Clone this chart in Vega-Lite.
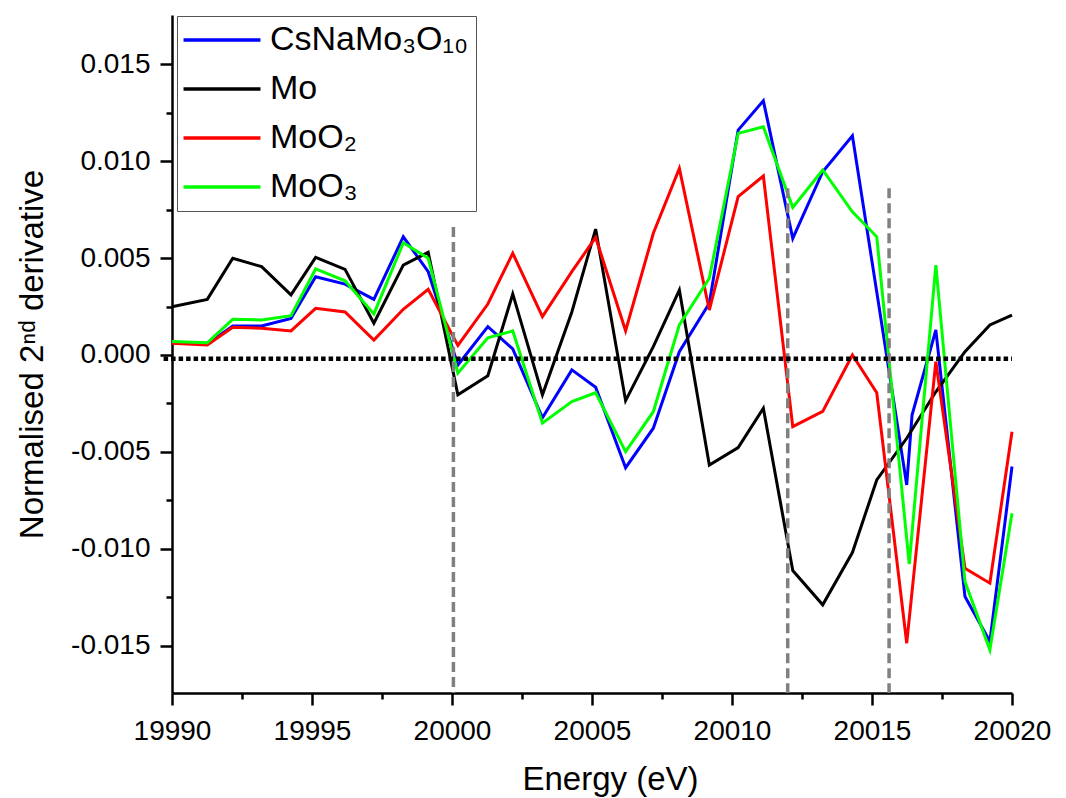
{
  "$schema": "https://vega.github.io/schema/vega-lite/v6.json",
  "width": 840,
  "height": 678,
  "autosize": {"type": "none"},
  "padding": {"left": 172, "top": 15, "right": 54, "bottom": 105},
  "background": "white",
  "config": {"view": {"stroke": null}, "axis": {"grid": false}},
  "datasets": {
    "spectra": [
      {"s": "CsNaMo₃O₁₀", "e": 19990.0, "v": 0.00063},
      {"s": "CsNaMo₃O₁₀", "e": 19991.26, "v": 0.00057},
      {"s": "CsNaMo₃O₁₀", "e": 19992.17, "v": 0.0015},
      {"s": "CsNaMo₃O₁₀", "e": 19993.2, "v": 0.0015},
      {"s": "CsNaMo₃O₁₀", "e": 19994.25, "v": 0.00189},
      {"s": "CsNaMo₃O₁₀", "e": 19995.13, "v": 0.00404},
      {"s": "CsNaMo₃O₁₀", "e": 19996.18, "v": 0.00366},
      {"s": "CsNaMo₃O₁₀", "e": 19997.21, "v": 0.00287},
      {"s": "CsNaMo₃O₁₀", "e": 19998.26, "v": 0.0061},
      {"s": "CsNaMo₃O₁₀", "e": 19999.15, "v": 0.0043},
      {"s": "CsNaMo₃O₁₀", "e": 20000.21, "v": -0.00052},
      {"s": "CsNaMo₃O₁₀", "e": 20001.28, "v": 0.00146},
      {"s": "CsNaMo₃O₁₀", "e": 20002.17, "v": 0.00031},
      {"s": "CsNaMo₃O₁₀", "e": 20003.23, "v": -0.00324},
      {"s": "CsNaMo₃O₁₀", "e": 20004.28, "v": -0.00077},
      {"s": "CsNaMo₃O₁₀", "e": 20005.13, "v": -0.00167},
      {"s": "CsNaMo₃O₁₀", "e": 20006.2, "v": -0.00582},
      {"s": "CsNaMo₃O₁₀", "e": 20007.19, "v": -0.00378},
      {"s": "CsNaMo₃O₁₀", "e": 20008.12, "v": 0.00017},
      {"s": "CsNaMo₃O₁₀", "e": 20009.19, "v": 0.00267},
      {"s": "CsNaMo₃O₁₀", "e": 20010.22, "v": 0.01161},
      {"s": "CsNaMo₃O₁₀", "e": 20011.12, "v": 0.01312},
      {"s": "CsNaMo₃O₁₀", "e": 20012.17, "v": 0.00602},
      {"s": "CsNaMo₃O₁₀", "e": 20013.24, "v": 0.00946},
      {"s": "CsNaMo₃O₁₀", "e": 20014.3, "v": 0.01132},
      {"s": "CsNaMo₃O₁₀", "e": 20015.17, "v": 0.00325},
      {"s": "CsNaMo₃O₁₀", "e": 20016.24, "v": -0.00671},
      {"s": "CsNaMo₃O₁₀", "e": 20016.43, "v": -0.0031},
      {"s": "CsNaMo₃O₁₀", "e": 20017.28, "v": 0.00129},
      {"s": "CsNaMo₃O₁₀", "e": 20018.32, "v": -0.01247},
      {"s": "CsNaMo₃O₁₀", "e": 20019.21, "v": -0.01479},
      {"s": "CsNaMo₃O₁₀", "e": 20020.0, "v": -0.00576},
      {"s": "Mo", "e": 19990.0, "v": 0.00249},
      {"s": "Mo", "e": 19991.26, "v": 0.00287},
      {"s": "Mo", "e": 19992.17, "v": 0.00499},
      {"s": "Mo", "e": 19993.2, "v": 0.00456},
      {"s": "Mo", "e": 19994.25, "v": 0.0031},
      {"s": "Mo", "e": 19995.13, "v": 0.00504},
      {"s": "Mo", "e": 19996.18, "v": 0.00442},
      {"s": "Mo", "e": 19997.21, "v": 0.00164},
      {"s": "Mo", "e": 19998.26, "v": 0.00464},
      {"s": "Mo", "e": 19999.15, "v": 0.0053},
      {"s": "Mo", "e": 20000.21, "v": -0.00206},
      {"s": "Mo", "e": 20001.28, "v": -0.00107},
      {"s": "Mo", "e": 20002.17, "v": 0.00315},
      {"s": "Mo", "e": 20003.23, "v": -0.00206},
      {"s": "Mo", "e": 20004.28, "v": 0.00222},
      {"s": "Mo", "e": 20005.13, "v": 0.0065},
      {"s": "Mo", "e": 20006.2, "v": -0.00236},
      {"s": "Mo", "e": 20007.19, "v": 0.00043},
      {"s": "Mo", "e": 20008.12, "v": 0.00335},
      {"s": "Mo", "e": 20009.19, "v": -0.00568},
      {"s": "Mo", "e": 20010.22, "v": -0.00478},
      {"s": "Mo", "e": 20011.12, "v": -0.00275},
      {"s": "Mo", "e": 20012.17, "v": -0.01113},
      {"s": "Mo", "e": 20013.24, "v": -0.0129},
      {"s": "Mo", "e": 20014.3, "v": -0.0102},
      {"s": "Mo", "e": 20015.17, "v": -0.00645},
      {"s": "Mo", "e": 20016.24, "v": -0.0043},
      {"s": "Mo", "e": 20017.28, "v": -0.0019},
      {"s": "Mo", "e": 20018.32, "v": 0.00017},
      {"s": "Mo", "e": 20019.21, "v": 0.00155},
      {"s": "Mo", "e": 20020.0, "v": 0.00206},
      {"s": "MoO₂", "e": 19990.0, "v": 0.0006},
      {"s": "MoO₂", "e": 19991.26, "v": 0.00052},
      {"s": "MoO₂", "e": 19992.17, "v": 0.00143},
      {"s": "MoO₂", "e": 19993.2, "v": 0.00138},
      {"s": "MoO₂", "e": 19994.25, "v": 0.00124},
      {"s": "MoO₂", "e": 19995.13, "v": 0.00241},
      {"s": "MoO₂", "e": 19996.18, "v": 0.00222},
      {"s": "MoO₂", "e": 19997.21, "v": 0.00077},
      {"s": "MoO₂", "e": 19998.26, "v": 0.00236},
      {"s": "MoO₂", "e": 19999.15, "v": 0.00339},
      {"s": "MoO₂", "e": 20000.21, "v": 0.00049},
      {"s": "MoO₂", "e": 20001.28, "v": 0.00263},
      {"s": "MoO₂", "e": 20002.17, "v": 0.00525},
      {"s": "MoO₂", "e": 20003.23, "v": 0.00198},
      {"s": "MoO₂", "e": 20004.28, "v": 0.0043},
      {"s": "MoO₂", "e": 20005.13, "v": 0.00607},
      {"s": "MoO₂", "e": 20006.2, "v": 0.00125},
      {"s": "MoO₂", "e": 20007.19, "v": 0.00628},
      {"s": "MoO₂", "e": 20008.12, "v": 0.00963},
      {"s": "MoO₂", "e": 20009.19, "v": 0.00232},
      {"s": "MoO₂", "e": 20010.22, "v": 0.00817},
      {"s": "MoO₂", "e": 20011.12, "v": 0.00924},
      {"s": "MoO₂", "e": 20012.17, "v": -0.0037},
      {"s": "MoO₂", "e": 20013.24, "v": -0.00291},
      {"s": "MoO₂", "e": 20014.3, "v": 0.0},
      {"s": "MoO₂", "e": 20015.17, "v": -0.00195},
      {"s": "MoO₂", "e": 20016.24, "v": -0.01488},
      {"s": "MoO₂", "e": 20017.28, "v": -0.00035},
      {"s": "MoO₂", "e": 20018.32, "v": -0.01101},
      {"s": "MoO₂", "e": 20019.21, "v": -0.01178},
      {"s": "MoO₂", "e": 20020.0, "v": -0.00396},
      {"s": "MoO₃", "e": 19990.0, "v": 0.00069},
      {"s": "MoO₃", "e": 19991.26, "v": 0.00063},
      {"s": "MoO₃", "e": 19992.17, "v": 0.00184},
      {"s": "MoO₃", "e": 19993.2, "v": 0.00181},
      {"s": "MoO₃", "e": 19994.25, "v": 0.00203},
      {"s": "MoO₃", "e": 19995.13, "v": 0.00444},
      {"s": "MoO₃", "e": 19996.18, "v": 0.00383},
      {"s": "MoO₃", "e": 19997.21, "v": 0.00212},
      {"s": "MoO₃", "e": 19998.26, "v": 0.00579},
      {"s": "MoO₃", "e": 19999.15, "v": 0.00499},
      {"s": "MoO₃", "e": 20000.21, "v": -0.00094},
      {"s": "MoO₃", "e": 20001.28, "v": 0.00089},
      {"s": "MoO₃", "e": 20002.17, "v": 0.00124},
      {"s": "MoO₃", "e": 20003.23, "v": -0.00352},
      {"s": "MoO₃", "e": 20004.28, "v": -0.00241},
      {"s": "MoO₃", "e": 20005.13, "v": -0.00195},
      {"s": "MoO₃", "e": 20006.2, "v": -0.00499},
      {"s": "MoO₃", "e": 20007.19, "v": -0.00293},
      {"s": "MoO₃", "e": 20008.12, "v": 0.00155},
      {"s": "MoO₃", "e": 20009.19, "v": 0.00396},
      {"s": "MoO₃", "e": 20010.22, "v": 0.01144},
      {"s": "MoO₃", "e": 20011.12, "v": 0.01178},
      {"s": "MoO₃", "e": 20012.17, "v": 0.00762},
      {"s": "MoO₃", "e": 20013.24, "v": 0.00955},
      {"s": "MoO₃", "e": 20014.3, "v": 0.00739},
      {"s": "MoO₃", "e": 20015.17, "v": 0.0061},
      {"s": "MoO₃", "e": 20016.33, "v": -0.0108},
      {"s": "MoO₃", "e": 20017.28, "v": 0.00464},
      {"s": "MoO₃", "e": 20018.32, "v": -0.0117},
      {"s": "MoO₃", "e": 20019.21, "v": -0.01522},
      {"s": "MoO₃", "e": 20020.0, "v": -0.00817}
    ],
    "markers": [
      {"e": 20000.05, "top": 0.0066},
      {"e": 20011.99, "top": 0.0086},
      {"e": 20015.61, "top": 0.0086}
    ]
  },
  "resolve": {"axis": {"x": "independent", "y": "independent"}},
  "layer": [
    {
      "data": {"name": "spectra"},
      "mark": {"type": "line", "strokeWidth": 3, "strokeJoin": "miter"},
      "encoding": {
        "x": {
          "field": "e", "type": "quantitative",
          "scale": {"domain": [19990, 20020], "nice": false, "zero": false},
          "axis": {
            "orient": "bottom",
            "values": [19990, 19995, 20000, 20005, 20010, 20015, 20020],
            "format": "d",
            "labelFont": "Liberation Sans", "labelFontSize": 28, "labelColor": "black",
            "labelPadding": 12, "labelFlush": false, "labelOverlap": false,
            "tickSize": 12, "tickWidth": 2.5, "tickColor": "black",
            "domainColor": "black", "domainWidth": 2.5,
            "title": "Energy (eV)", "titleFont": "Liberation Sans", "titleFontSize": 33,
            "titleFontWeight": "normal", "titleColor": "black", "titlePadding": 18,
            "titleX": 438, "titleAlign": "center"
          }
        },
        "y": {
          "field": "v", "type": "quantitative",
          "scale": {"domain": [-0.01745, 0.01755], "nice": false, "zero": false},
          "axis": {
            "orient": "left",
            "values": [-0.015, -0.01, -0.005, 0, 0.005, 0.01, 0.015],
            "labelExpr": "replace(format(datum.value, '.3f'), '−', '-')",
            "labelFont": "Liberation Sans", "labelFontSize": 28, "labelColor": "black",
            "labelPadding": 10, "labelFlush": false, "labelOverlap": false,
            "tickSize": 12, "tickWidth": 2.5, "tickColor": "black",
            "domainColor": "black", "domainWidth": 2.5,
            "title": "Normalised 2ⁿᵈ derivative", "titleFont": "Liberation Sans", "titleFontSize": 33,
            "titleFontWeight": "normal", "titleColor": "black", "titlePadding": 21
          }
        },
        "color": {
          "field": "s", "type": "nominal",
          "scale": {"domain": ["CsNaMo₃O₁₀", "Mo", "MoO₂", "MoO₃"], "range": ["#0000ff", "#000000", "#ff0000", "#00ff00"]},
          "legend": {
            "orient": "none", "legendX": 5, "legendY": 1, "title": null,
            "symbolType": "M-4,0H4", "symbolSize": 370, "symbolStrokeWidth": 3.5,
            "symbolOffset": 21,
            "labelFont": "Liberation Sans", "labelFontSize": 34, "labelColor": "black",
            "labelOffset": 31, "labelLimit": 400, "rowPadding": 15, "padding": 7,
            "strokeColor": "#555555", "fillColor": "white"
          }
        }
      }
    },
    {
      "data": {"name": "markers"},
      "mark": {"type": "rule", "color": "#808080", "strokeWidth": 3.5, "strokeDash": [10, 5]},
      "encoding": {
        "x": {"field": "e", "type": "quantitative", "scale": {"domain": [19990, 20020], "nice": false, "zero": false}, "axis": null},
        "y": {"field": "top", "type": "quantitative", "scale": {"domain": [-0.01745, 0.01755], "nice": false, "zero": false}, "axis": null},
        "y2": {"datum": -0.01745}
      }
    },
    {
      "data": {"values": [{"level": -0.0002, "from": 19989.7, "to": 20020}]},
      "mark": {"type": "rule", "color": "black", "strokeWidth": 4.5, "strokeDash": [4.5, 3]},
      "encoding": {
        "x": {
          "field": "from", "type": "quantitative",
          "scale": {"domain": [19990, 20020], "nice": false, "zero": false},
          "axis": {
            "orient": "bottom",
            "values": [19992.5, 19997.5, 20002.5, 20007.5, 20012.5, 20017.5],
            "labels": false, "domain": false, "title": null,
            "tickSize": 6, "tickWidth": 2.5, "tickColor": "black"
          }
        },
        "x2": {"field": "to"},
        "y": {
          "field": "level", "type": "quantitative",
          "scale": {"domain": [-0.01745, 0.01755], "nice": false, "zero": false},
          "axis": {
            "orient": "left",
            "values": [-0.0125, -0.0075, -0.0025, 0.0025, 0.0075, 0.0125],
            "labels": false, "domain": false, "title": null,
            "tickSize": 6, "tickWidth": 2.5, "tickColor": "black"
          }
        }
      }
    }
  ]
}
